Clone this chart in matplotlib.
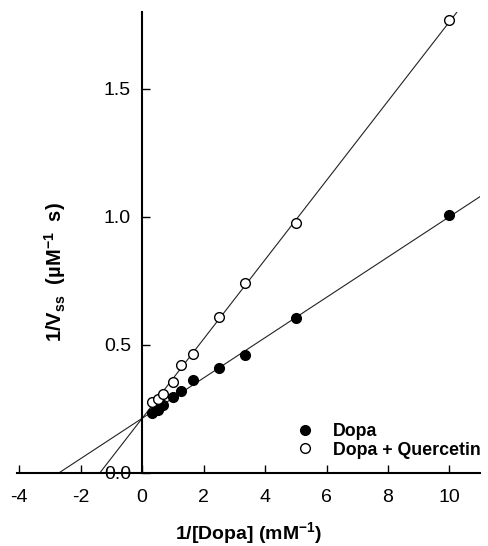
import numpy as np
import matplotlib.pyplot as plt

plt.rcParams['font.family'] = ['Liberation Sans', 'DejaVu Sans']
plt.rcParams['mathtext.fontset'] = 'custom'
plt.rcParams['mathtext.rm'] = 'Liberation Sans:bold'
plt.rcParams['mathtext.bf'] = 'Liberation Sans:bold'
plt.rcParams['mathtext.default'] = 'bf'
plt.rcParams['axes.unicode_minus'] = False

# 1/[Dopa] (mM^-1)
inv_dopa = np.array([0.33, 0.5, 0.67, 1.0, 1.25, 1.67, 2.5, 3.33, 5.0, 10.0])
# 1/Vss (uM^-1 s)
inv_v_dopa = np.array([0.234, 0.245, 0.265, 0.297, 0.320, 0.360, 0.410, 0.460, 0.603, 1.005])
inv_v_querc = np.array([0.274, 0.287, 0.306, 0.355, 0.420, 0.463, 0.609, 0.742, 0.975, 1.770])

# fitted lines
fit_intercept = [0.212, 0.212]
fit_slope = [0.0788, 0.155]
labels = ['Dopa', 'Dopa + Quercetin']

fig = plt.figure(figsize=(4.89, 5.46), dpi=100)
ax = fig.add_axes([0.035, 0.1346, 0.947, 0.8434])

for b, m in zip(fit_intercept, fit_slope):
    xs = np.array([-b / m, 11.5])
    ax.plot(xs, b + m * xs, color='#222222', lw=0.8, zorder=2)

ax.plot(inv_dopa, inv_v_dopa, 'o', ms=7, mfc='black', mec='black', mew=1,
        label=labels[0], zorder=3)
ax.plot(inv_dopa, inv_v_querc, 'o', ms=7, mfc='white', mec='black', mew=1,
        label=labels[1], zorder=3)

ax.set_xlim(-4.07, 11.0)
ax.set_ylim(0, 1.8)
ax.set_xticks([-4, -2, 0, 2, 4, 6, 8, 10])
ax.set_yticks([0.0, 0.5, 1.0, 1.5])
ax.set_yticklabels(['0.0', '0.5', '1.0', '1.5'])

ax.spines['left'].set_position(('data', 0))
ax.spines['top'].set_visible(False)
ax.spines['right'].set_visible(False)
for s in ['left', 'bottom']:
    ax.spines[s].set_linewidth(1.5)

ax.tick_params(axis='x', direction='in', length=6, width=1, pad=12, labelsize=14)
ax.tick_params(axis='y', direction='in', length=6, width=1, pad=8, labelsize=14)

ax.set_xlabel('1/[Dopa] (mM$^{-1}$)', fontsize=14, fontweight='bold', labelpad=10)
ax.set_ylabel('1/V$_{ss}$  (\u00b5M$^{-1}$  s)', fontsize=14.5, fontweight='bold')
ax.yaxis.set_label_coords(0.11, 0.435)

ax.legend(loc='center left', bbox_to_anchor=(0.602, 0.069), frameon=False,
          prop={'weight': 'bold', 'size': 12.8}, handlelength=1.0,
          handletextpad=1.1, labelspacing=0.1, borderpad=0, borderaxespad=0,
          markerscale=1.0)

plt.savefig('out.png', dpi=100)
